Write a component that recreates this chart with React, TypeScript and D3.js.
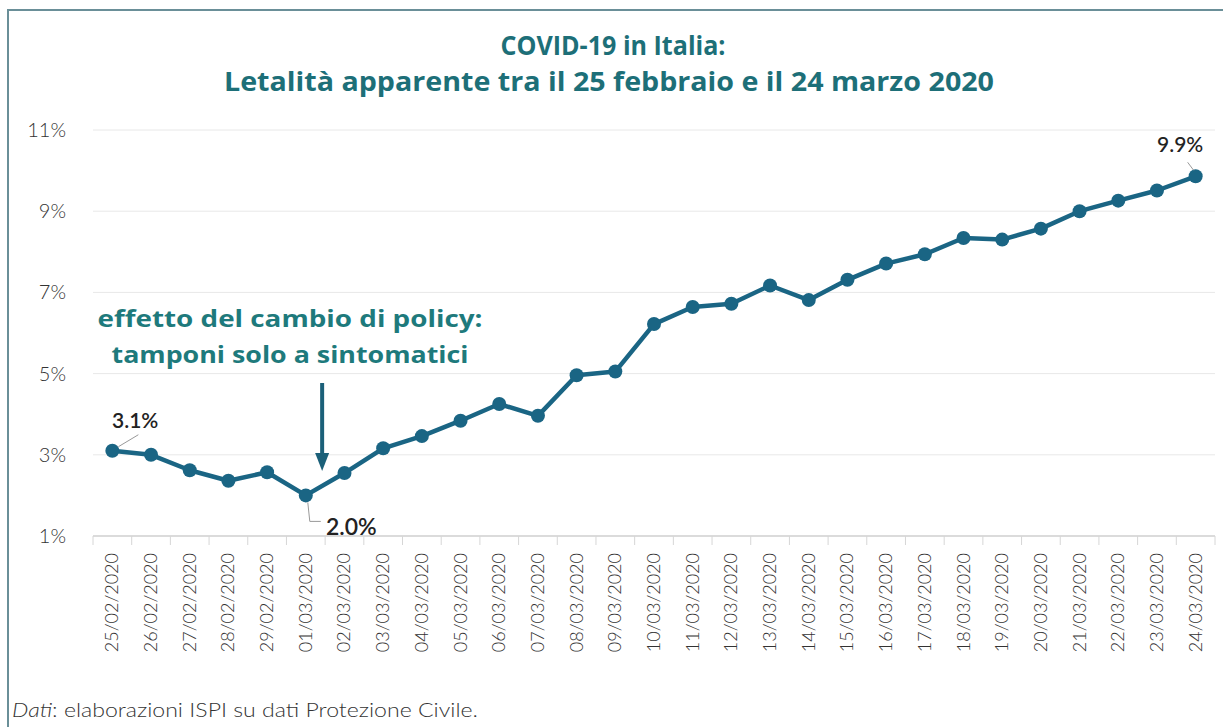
import React from "react";
import * as d3 from "d3";

const dates = [
  "25/02/2020","26/02/2020","27/02/2020","28/02/2020","29/02/2020","01/03/2020","02/03/2020",
  "03/03/2020","04/03/2020","05/03/2020","06/03/2020","07/03/2020","08/03/2020","09/03/2020",
  "10/03/2020","11/03/2020","12/03/2020","13/03/2020","14/03/2020","15/03/2020","16/03/2020",
  "17/03/2020","18/03/2020","19/03/2020","20/03/2020","21/03/2020","22/03/2020","23/03/2020","24/03/2020",
];
const lethality = [
  3.1, 3.0, 2.62, 2.36, 2.57, 2.0, 2.55, 3.16, 3.46, 3.84, 4.25, 3.96, 4.96, 5.05,
  6.22, 6.64, 6.72, 7.17, 6.81, 7.31, 7.71, 7.94, 8.34, 8.3, 8.57, 9.0, 9.26, 9.51, 9.86,
];
const yTicks = [1, 3, 5, 7, 9, 11];
const titleLines = ["COVID-19 in Italia:", "Letalità apparente tra il 25 febbraio e il 24 marzo 2020"];
const annotationLines = ["effetto del cambio di policy:", "tamponi solo a sintomatici"];

const W = 1223, H = 727;
const TEAL = "#1d6f78";
const LINE = "#1a6584";
const FONT = "Lato, 'Open Sans', sans-serif";
const WIDE = "'Open Sans', Lato, sans-serif";

export default function App() {
  const x = d3.scaleBand<string>().domain(dates).range([93, 1215]);
  const y = d3.scaleLinear().domain([1, 11]).range([536, 130]);
  const cx = (i: number) => (x(dates[i]) as number) + x.bandwidth() / 2;
  const line = d3.line<number>().x((_, i) => cx(i)).y((d) => y(d));
  const n = dates.length;
  const iMin = 5;
  const arrowX = (cx(5) + cx(6)) / 2 - 3;
  const titleW = [225, 770];
  const annW = [385, 357];

  return (
    <svg width={W} height={H} style={{ position: "absolute", left: 0, top: 0, background: "#fff" }}>
      <rect x={8} y={10} width={W + 20} height={H + 20} fill="#fff" stroke="#6a8f98" strokeWidth={2} />
      {/* title */}
      {titleLines.map((t, i) => (
        <text key={i} x={613 - (i ? 4 : 0)} y={55 + i * 36} textAnchor="middle" fill={TEAL}
          textLength={titleW[i]} lengthAdjust="spacingAndGlyphs"
          style={{ fontFamily: WIDE, fontWeight: 700, fontSize: 27 }}>{t}</text>
      ))}
      {/* grid */}
      {yTicks.map((t) => (
        <g key={t}>
          <line x1={93} x2={1215} y1={y(t)} y2={y(t)} stroke={t === 1 ? "#cfcfcf" : "#e8e8e8"} strokeWidth={t === 1 ? 1.5 : 1} />
          <text x={66} y={y(t) + 7} textAnchor="end" fill="#333"
            style={{ fontFamily: FONT, fontWeight: 300, fontSize: 20 }}>{t}%</text>
        </g>
      ))}
      {/* x ticks */}
      {d3.range(n + 1).map((i) => {
        const xx = 93 + i * x.step();
        return <line key={i} x1={xx} x2={xx} y1={536} y2={545} stroke="#d6d6d6" strokeWidth={1} />;
      })}
      {dates.map((d, i) => (
        <text key={d} transform={`translate(${cx(i) + 6},553) rotate(-90)`} textAnchor="end" fill="#333"
          style={{ fontFamily: FONT, fontWeight: 300, fontSize: 18 }}>{d}</text>
      ))}
      {/* series */}
      <path d={line(lethality) || ""} fill="none" stroke={LINE} strokeWidth={4.5} strokeLinejoin="round" />
      {lethality.map((v, i) => (
        <circle key={i} cx={cx(i)} cy={y(v)} r={7} fill={LINE} />
      ))}
      {/* annotation */}
      {annotationLines.map((t, i) => (
        <text key={i} x={290} y={327 + i * 36} textAnchor="middle" fill="#1e7a7c"
          textLength={annW[i]} lengthAdjust="spacingAndGlyphs"
          style={{ fontFamily: WIDE, fontWeight: 700, fontSize: 24 }}>{t}</text>
      ))}
      <line x1={arrowX} x2={arrowX} y1={383} y2={455} stroke="#1b6079" strokeWidth={4} />
      <path d={`M${arrowX - 7},453 L${arrowX + 7},453 L${arrowX},471 Z`} fill="#1b6079" />
      {/* point labels */}
      <line x1={cx(0) + 6} y1={y(lethality[0]) - 4} x2={cx(0) + 26} y2={y(lethality[0]) - 16} stroke="#999" strokeWidth={1} />
      <text x={112} y={428} fill="#222" style={{ fontFamily: FONT, fontWeight: 600, fontSize: 21 }}>
        {`${lethality[0].toFixed(1)}%`}
      </text>
      <path d={`M${cx(iMin) + 2},${y(lethality[iMin]) + 7} L${cx(iMin) + 4},${y(lethality[iMin]) + 26} L${cx(iMin) + 15},${y(lethality[iMin]) + 26}`}
        fill="none" stroke="#999" strokeWidth={1} />
      <text x={326} y={535} fill="#222" style={{ fontFamily: FONT, fontWeight: 600, fontSize: 23 }}>
        {`${lethality[iMin].toFixed(1)}%`}
      </text>
      <line x1={cx(n - 1) - 2} y1={y(lethality[n - 1]) - 6} x2={cx(n - 1) - 8} y2={y(lethality[n - 1]) - 14} stroke="#999" strokeWidth={1} />
      <text x={1157} y={152} fill="#222" style={{ fontFamily: FONT, fontWeight: 500, fontSize: 21 }}>
        {`${lethality[n - 1].toFixed(1)}%`}
      </text>
      {/* footer */}
      <text x={12} y={717} fill="#333" textLength={466} lengthAdjust="spacingAndGlyphs"
        style={{ fontFamily: FONT, fontWeight: 300, fontSize: 20 }}>
        <tspan fontStyle="italic">Dati</tspan>: elaborazioni ISPI su dati Protezione Civile.
      </text>
    </svg>
  );
}
